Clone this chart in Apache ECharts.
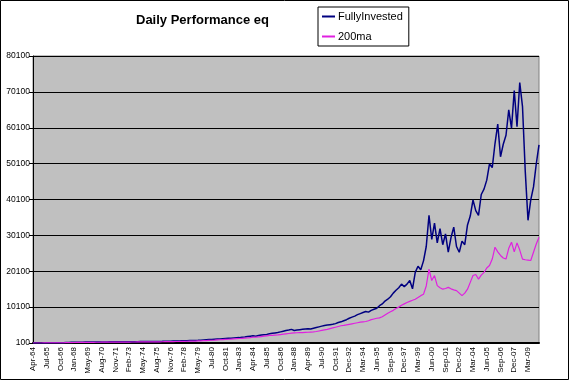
<!DOCTYPE html>
<html>
<head>
<meta charset="utf-8">
<script src="https://cdn.jsdelivr.net/npm/echarts@6/dist/echarts.min.js"></script>
<style>
html,body{margin:0;padding:0;background:#fff;}
#chart{width:569px;height:380px;}
</style>
</head>
<body>
<div id="chart"></div>
<script>
const tickLabels = ['Apr-64','Jul-65','Oct-66','Jan-68','May-69','Aug-70','Nov-71','Feb-73','May-74','Aug-75','Nov-76','Feb-78','May-79','Jul-80','Oct-81','Jan-83','Apr-84','Jul-85','Oct-86','Jan-88','Apr-89','Jul-90','Oct-91','Dec-92','Mar-94','Jun-95','Sep-96','Dec-97','Mar-99','Jun-00','Sep-01','Dec-02','Mar-04','Jun-05','Sep-06','Dec-07','Mar-09'];

const fullyInvested = [
100,105,110,115,120,130,140,150,160,170,180,200,
250,270,290,300,320,330,340,350,360,
370,380,380,390,400,400,410,420,420,430,
430,440,450,450,460,470,480,480,490,500,
500,510,520,530,540,550,560,580,600,620,
640,660,680,700,720,750,
780,800,830,860,900,950,1000,1050,1100,1150,
1200,1250,1300,1350,1400,1450,1500,1550,1600,
1700,1750,1900,2000,2100,2000,2200,2300,2400,2500,2700,2800,2900,3000,
3200,3400,3600,3700,3900,3600,3700,3800,3900,4000,4100,4000,4200,
4400,4600,4800,5000,5100,5200,5300,5500,5800,6000,6300,6600,7000,
7300,7600,8000,8300,8600,8900,8700,9200,9500,9800,
10500,11000,11800,12300,13000,14000,14800,15500,
16500,15800,16500,17500,15200,19800,21500,20500,23000,27000,
35700,29000,33500,28000,32000,27500,30500,25400,29500,32400,27000,25400,28500,27500,33000,35500,40000,
37000,35700,41500,43000,45500,50000,49000,55700,61100,52000,55500,58000,65100,60000,70500,60400,72700,66000,48000,34300,40000,43600,50000,55300
];

const ma200 = [
100,100,100,105,110,115,120,125,130,140,150,160,
200,210,230,240,250,260,270,280,290,
300,300,310,310,320,320,330,330,340,340,
350,350,360,360,370,380,380,390,390,400,
400,410,410,420,430,440,450,460,470,490,
500,520,530,550,570,590,
610,630,650,680,700,740,780,820,860,900,
950,1000,1050,1100,1150,1200,1250,1300,1350,
1400,1450,1500,1600,1700,1750,1800,1900,2000,2100,2200,2250,2300,2350,
2450,2550,2650,2750,2850,2900,2950,3000,3000,3050,3100,3150,3200,
3300,3450,3600,3750,3900,4100,4300,4500,4700,4900,5000,5150,5300,
5450,5600,5750,5900,6000,6100,6300,6600,6800,7000,
7100,7400,7900,8400,8800,9200,9700,10100,
10600,11000,11400,11700,12000,12300,12800,13300,13700,16000,
20700,17500,18900,16100,15500,15100,15300,15600,15200,14900,14700,14000,13300,14000,15100,17000,18900,
19200,17900,19000,19800,21000,21700,23500,26800,25500,24500,23800,23500,26500,28200,25500,28000,26000,23500,23300,23200,23100,25400,27700,29600
];

const categories = fullyInvested.map((_, i) =>
  i % 5 === 0 ? tickLabels[i / 5] : tickLabels[Math.floor(i / 5)] + '.' + (i % 5));

const FONT = '"Liberation Sans", Arial, sans-serif';
const chart = echarts.init(document.getElementById('chart'), null, {renderer: 'canvas'});
chart.setOption({
  animation: false,
  backgroundColor: '#ffffff',
  textStyle: {fontFamily: FONT},
  graphic: [{
    type: 'rect', z: 100, silent: true,
    shape: {x: 0.5, y: 0.5, width: 568, height: 379},
    style: {fill: 'none', stroke: '#000', lineWidth: 1}
  }],
  title: {
    text: 'Daily Performance eq',
    left: 131, top: 9,
    textStyle: {fontSize: 13, fontWeight: 'bold', color: '#000', fontFamily: FONT}
  },
  legend: {
    orient: 'vertical',
    left: 318, top: 7,
    backgroundColor: '#fff',
    borderColor: '#000', borderWidth: 1, borderRadius: 0,
    padding: [4, 6, 4, 4],
    itemWidth: 13, itemHeight: 2, itemGap: 9,
    textStyle: {fontSize: 11, color: '#000', fontFamily: FONT, padding: [0, 0, 0, -2]},
    data: [{name: 'FullyInvested', icon: 'rect'}, {name: '200ma', icon: 'rect'}]
  },
  grid: {
    left: 33, right: 30, top: 56, bottom: 37,
    show: true, backgroundColor: '#C0C0C0', borderColor: '#808080', borderWidth: 1
  },
  xAxis: {
    type: 'category',
    data: categories,
    boundaryGap: false,
    axisLine: {lineStyle: {color: '#000', width: 2}},
    axisTick: {show: false},
    axisLabel: {
      interval: 4, rotate: 90, fontSize: 8, color: '#000', margin: 4,
      fontFamily: FONT
    },
    splitLine: {show: false}
  },
  yAxis: {
    type: 'value',
    min: 100, max: 80100, interval: 10000,
    axisLine: {show: true, lineStyle: {color: '#000', width: 1}},
    axisTick: {show: true, length: 4, lineStyle: {color: '#000'}},
    axisLabel: {fontSize: 8.5, color: '#000', margin: 3, fontFamily: FONT,
      formatter: v => String(v)},
    splitLine: {show: true, lineStyle: {color: '#000', width: 1}}
  },
  series: [
    {
      name: 'FullyInvested', type: 'line', data: fullyInvested,
      showSymbol: false, symbol: 'none',
      lineStyle: {color: '#000080', width: 1.5},
      itemStyle: {color: '#000080'}
    },
    {
      name: '200ma', type: 'line', data: ma200,
      showSymbol: false, symbol: 'none',
      lineStyle: {color: '#E020E0', width: 1.2},
      itemStyle: {color: '#E020E0'}
    }
  ]
});
</script>
</body>
</html>
